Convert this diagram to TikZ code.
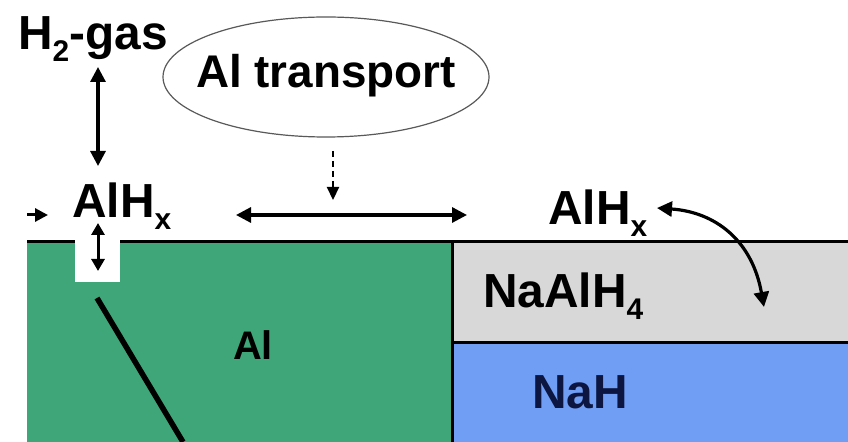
\documentclass[tikz,border=0pt]{standalone}
\usepackage{fontspec}
\setmainfont{Liberation Sans}
\usetikzlibrary{arrows.meta}
\definecolor{algreen}{RGB}{62,166,120}
\definecolor{hydgray}{RGB}{216,216,216}
\definecolor{nahblue}{RGB}{112,158,245}
\definecolor{navy}{RGB}{12,22,64}
\newcommand{\lowsub}[1]{\raisebox{-12pt}{\fontsize{30}{30}\selectfont #1}}
\tikzset{
  lbl/.style={inner sep=0pt, anchor=base west, font=\bfseries\fontsize{48}{52}\selectfont},
  dblarrow/.style={line width=3.2bp, {Triangle[length=15bp,width=15bp]}-{Triangle[length=15bp,width=15bp]}},
  border/.style={line width=3bp, black}
}
\begin{document}
\begin{tikzpicture}[x=1bp,y=-1bp]
\useasboundingbox (0,0) rectangle (848,442);
\fill[white] (0,0) rectangle (848,442);
% layers
\fill[algreen] (27,242) rectangle (452,442);
\fill[hydgray] (452,242) rectangle (848,343);
\fill[nahblue] (452,343) rectangle (848,442);
\draw[border] (27,242) -- (848,242);
\draw[border] (452,242) -- (452,442);
\draw[border] (452,343) -- (848,343);
% pore at the surface and the grain boundary
\fill[white] (75,240) rectangle (120,282);
\draw[line width=5.5bp] (97,298) -- (183,442);
% labels
\node[lbl] (h2) at (18,50) {H\lowsub{2}-gas};
\node[lbl] (alhxL) at (72,218) {AlH\lowsub{x}};
\node[lbl] (alhxR) at (548,225) {AlH\lowsub{x}};
\node[lbl] (naalh) at (483,308) {NaAlH\lowsub{4}};
\node[lbl, text=navy] (nah) at (532,408) {NaH};
\node[lbl, font=\bfseries\fontsize{40}{44}\selectfont] (al) at (233,360) {Al};
\draw[black!65, line width=1.2bp] (326,77) ellipse [x radius=163, y radius=60];
\node[inner sep=0pt, font=\bfseries\fontsize{46}{50}\selectfont] (transport) at (326,76) {Al transport};
% arrow end points
\coordinate (gasA) at (98,67);
\coordinate (gasB) at (98,166);
\coordinate (poreA) at (98,223);
\coordinate (poreB) at (98,271);
\coordinate (inA) at (27,215);
\coordinate (inB) at (48,215);
\coordinate (surfA) at (236,215);
\coordinate (surfB) at (467,215);
\coordinate (dropA) at (333,151);
\coordinate (dropB) at (333,200);
\coordinate (curlA) at (657,208);
\coordinate (curlB) at (764,307);
% arrows
\draw[dblarrow] (gasA) -- (gasB);
\draw[line width=3bp, {Triangle[length=12bp,width=13bp]}-{Triangle[length=12bp,width=13bp]}] (poreA) -- (poreB);
\draw[line width=3bp, -{Triangle[length=13bp,width=13bp]}] (inA) -- (inB);
\draw[dblarrow] (surfA) -- (surfB);
\draw[line width=2.2bp, dash pattern=on 6bp off 4bp, -{Triangle[length=13bp,width=12bp]}] (dropA) -- (dropB);
\draw[dblarrow] (curlA) .. controls (715,212) and (752,240) .. (curlB);
\end{tikzpicture}
\end{document}
